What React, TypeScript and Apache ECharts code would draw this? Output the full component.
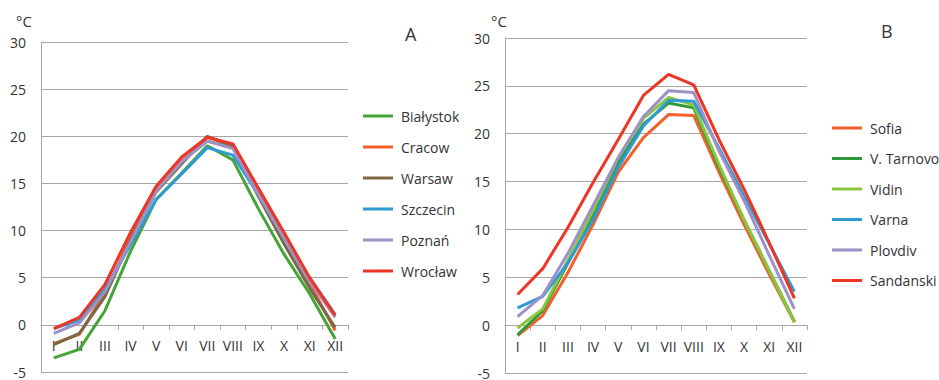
import React, { useEffect, useRef } from "react";
import * as echarts from "echarts";

const months = ["I", "II", "III", "IV", "V", "VI", "VII", "VIII", "IX", "X", "XI", "XII"];

const polandNames = ["Białystok", "Cracow", "Warsaw", "Szczecin", "Poznań", "Wrocław"];
const bialystok = [-3.5, -2.6, 1.5, 7.8, 13.3, 16.1, 19.0, 17.5, 12.3, 7.5, 3.3, -1.5];
const cracow = [-2.0, -1.0, 3.4, 9.2, 14.4, 17.4, 19.5, 18.8, 14.0, 9.4, 4.4, -0.6];
const warsaw = [-2.1, -0.9, 3.0, 9.0, 14.1, 17.1, 20.0, 18.9, 13.6, 8.6, 3.9, -0.3];
const szczecin = [-0.4, 0.5, 3.8, 8.5, 13.3, 16.0, 18.8, 18.0, 13.8, 9.3, 5.0, 1.1];
const poznan = [-0.9, 0.2, 3.5, 8.8, 14.2, 17.3, 19.5, 18.7, 13.8, 9.2, 4.6, 0.8];
const wroclaw = [-0.4, 0.8, 4.3, 9.8, 14.7, 17.8, 19.9, 19.2, 14.5, 9.8, 5.0, 1.0];
const polandValues = [bialystok, cracow, warsaw, szczecin, poznan, wroclaw];
const polandColors = ["#43a536", "#f4602a", "#7a6845", "#2f9ad3", "#9d91c7", "#ee3524"];

const bulgariaNames = ["Sofia", "V. Tarnovo", "Vidin", "Varna", "Plovdiv", "Sandanski"];
const sofia = [-1.1, 1.0, 5.5, 10.5, 16.0, 19.6, 22.0, 21.9, 16.0, 10.5, 5.3, 0.3];
const tarnovo = [-1.0, 1.5, 6.5, 11.5, 17.0, 21.0, 23.2, 22.7, 16.5, 11.0, 5.7, 0.4];
const vidin = [-0.3, 1.7, 6.8, 12.0, 17.5, 21.6, 23.8, 23.0, 16.8, 11.0, 5.7, 0.3];
const varna = [1.8, 3.0, 6.5, 11.0, 16.5, 20.8, 23.5, 23.4, 18.5, 13.5, 8.5, 3.5];
const plovdiv = [0.9, 3.1, 7.5, 12.5, 17.5, 21.8, 24.5, 24.3, 18.2, 13.0, 7.3, 1.7];
const sandanski = [3.2, 5.9, 10.2, 14.9, 19.4, 24.0, 26.2, 25.1, 19.4, 14.2, 8.6, 2.8];
const bulgariaValues = [sofia, tarnovo, vidin, varna, plovdiv, sandanski];
const bulgariaColors = ["#f4602a", "#2e9a3a", "#8cc63f", "#2f9ad3", "#9d91c7", "#ee3524"];

const Y_MIN = -5;
const Y_MAX = 30;
const Y_STEP = 5;

const FONT = "'Open Sans', sans-serif";
const TEXT = "#333333";
const GRID = "#a6a6a6";

const GRID_A = { left: 41, top: 42, width: 307, height: 330 };
const GRID_B = { left: 505, top: 38, width: 302, height: 335 };

export default function App() {
  const ref = useRef<HTMLDivElement>(null);
  useEffect(() => {
    if (!ref.current) return;
    const chart = echarts.init(ref.current, undefined, { renderer: "svg" });
    const mkX = (gridIndex: number, gridHeight: number) => ({
      type: "category" as const,
      gridIndex,
      data: months,
      boundaryGap: true,
      position: "bottom" as const,
      offset: -((0 - Y_MIN) / (Y_MAX - Y_MIN)) * gridHeight,
      axisLine: { onZero: false, lineStyle: { color: GRID, width: 1 } },
      axisTick: { show: true, length: 5, lineStyle: { color: GRID } },
      axisLabel: { color: TEXT, fontSize: 14, fontFamily: FONT, margin: 14, interval: 0 },
    });
    const mkY = (gridIndex: number) => ({
      type: "value" as const,
      gridIndex,
      min: Y_MIN,
      max: Y_MAX,
      interval: Y_STEP,
      axisLine: { show: true, onZero: false, lineStyle: { color: GRID, width: 1 } },
      axisTick: { show: false },
      splitLine: { show: true, lineStyle: { color: GRID, width: 1 } },
      axisLabel: { color: TEXT, fontSize: 14, fontFamily: FONT, margin: 15 },
    });
    const series: any[] = [];
    polandNames.forEach((n, i) =>
      series.push({
        name: n,
        type: "line",
        xAxisIndex: 0,
        yAxisIndex: 0,
        data: polandValues[i],
        symbol: "none",
        lineStyle: { width: 3, color: polandColors[i] },
        itemStyle: { color: polandColors[i] },
      })
    );
    bulgariaNames.forEach((n, i) =>
      series.push({
        name: n,
        type: "line",
        xAxisIndex: 1,
        yAxisIndex: 1,
        data: bulgariaValues[i],
        symbol: "none",
        lineStyle: { width: 3, color: bulgariaColors[i] },
        itemStyle: { color: bulgariaColors[i] },
      })
    );
    const legendCommon = {
      orient: "vertical" as const,
      icon: "rect",
      itemWidth: 30,
      itemHeight: 3,
      textStyle: { color: TEXT, fontSize: 14, fontFamily: FONT, padding: [0, 0, 0, 3] },
    };
    chart.setOption({
      animation: false,
      grid: [GRID_A, GRID_B],
      xAxis: [mkX(0, GRID_A.height), mkX(1, GRID_B.height)],
      yAxis: [mkY(0), mkY(1)],
      legend: [
        { ...legendCommon, data: polandNames, left: 358, top: 104, itemGap: 17 },
        { ...legendCommon, data: bulgariaNames, left: 827, top: 116, itemGap: 16.5 },
      ],
      graphic: [
        { type: "text", left: 16, top: 13, style: { text: "°C", fontSize: 15, fontFamily: FONT, fill: TEXT } },
        { type: "text", left: 491, top: 13, style: { text: "°C", fontSize: 15, fontFamily: FONT, fill: TEXT } },
        { type: "text", left: 405, top: 25, style: { text: "A", fontSize: 18, fontFamily: FONT, fill: TEXT } },
        { type: "text", left: 881, top: 22, style: { text: "B", fontSize: 18, fontFamily: FONT, fill: TEXT } },
      ],
      series,
    });
    return () => chart.dispose();
  }, []);
  return (
    <div
      ref={ref}
      style={{ position: "fixed", left: 0, top: 0, width: 939, height: 380, background: "#fff" }}
    />
  );
}
